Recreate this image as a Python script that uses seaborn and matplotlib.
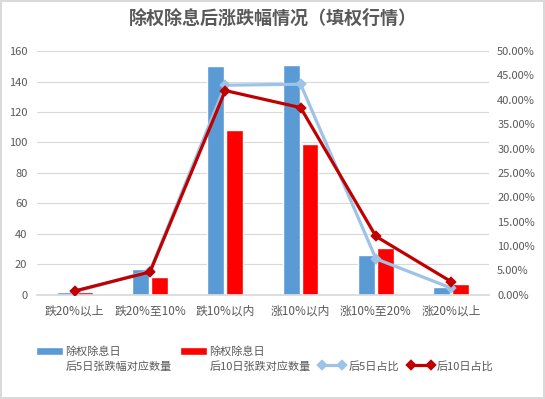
import numpy as np
import pandas as pd
import matplotlib
matplotlib.use("Agg")
import matplotlib.pyplot as plt
from matplotlib.ticker import PercentFormatter, MultipleLocator
import seaborn as sns

categories = ["跌20%以上", "跌20%至10%", "跌10%以内", "涨10%以内", "涨10%至20%", "涨20%以上"]
count_5d = [2, 17, 150, 151, 26, 5]
count_10d = [2, 12, 108, 99, 31, 7]
pct_5d = [0.006, 0.049, 0.430, 0.432, 0.074, 0.014]
pct_10d = [0.008, 0.047, 0.419, 0.384, 0.120, 0.027]

bar_labels = ["除权除息日\n后5日张跌幅对应数量", "除权除息日\n后10日张跌对应数量"]
line_labels = ["后5日占比", "后10日占比"]

GRAY = "#595959"
sns.set_theme(style="white")
plt.rcParams["font.family"] = ["Noto Sans CJK SC", "DejaVu Sans"]

bars = pd.DataFrame({
    "cat": categories * 2,
    "val": count_5d + count_10d,
    "series": [bar_labels[0]] * 6 + [bar_labels[1]] * 6,
})
lines = pd.DataFrame({
    "cat": categories * 2,
    "val": pct_5d + pct_10d,
    "series": [line_labels[0]] * 6 + [line_labels[1]] * 6,
})

fig = plt.figure(figsize=(5.45, 3.99), dpi=100)
fig.patch.set_edgecolor("#D9D9D9")
fig.patch.set_linewidth(1.5)
ax = fig.add_axes([0.068, 0.261, 0.829, 0.611])

sns.barplot(data=bars, x="cat", y="val", hue="series", order=categories,
            palette=["#5B9BD5", "#FF0000"], saturation=1, width=0.5, gap=0.1, ax=ax)
ax.set_ylim(0, 160)
ax.yaxis.set_major_locator(MultipleLocator(20))
ax.grid(axis="y", color="#D9D9D9", linewidth=0.8)
ax.set_axisbelow(True)
ax.set_xlabel("")
ax.set_ylabel("")
for s in ["top", "left", "right"]:
    ax.spines[s].set_visible(False)
ax.spines["bottom"].set_color("#D9D9D9")
ax.tick_params(axis="x", colors=GRAY, labelsize=8.5, pad=7, length=0)
ax.tick_params(axis="y", colors=GRAY, labelsize=8, pad=7, length=0)

ax2 = ax.twinx()
sns.pointplot(data=lines, x="cat", y="val", hue="series", order=categories,
              palette=["#9DC3E6", "#C00000"], markers="D", linestyles="-",
              linewidth=2.3, markersize=4.2, ax=ax2)
ax2.set_ylim(0, 0.5)
ax2.yaxis.set_major_locator(MultipleLocator(0.05))
ax2.yaxis.set_major_formatter(PercentFormatter(1.0, decimals=2))
ax2.set_ylabel("")
for s in ["top", "left", "right", "bottom"]:
    ax2.spines[s].set_visible(False)
ax2.tick_params(axis="y", colors=GRAY, labelsize=8, pad=6, length=0)
ax2.grid(False)

h1, l1 = ax.get_legend_handles_labels()
h2, l2 = ax2.get_legend_handles_labels()
ax.get_legend().remove()
ax2.get_legend().remove()
leg = fig.legend(h1 + h2, l1 + l2, loc="upper left", bbox_to_anchor=(0.058, 0.142),
                 ncol=4, frameon=False, fontsize=8, handlelength=2.4,
                 handletextpad=0.25, columnspacing=0.75, labelcolor=GRAY,
                 numpoints=2, borderaxespad=0)
for t in leg.get_texts():
    t.set_linespacing(1.45)
# keep each key level with the first line of its label
for col in leg._legend_handle_box.get_children():
    for item in col.get_children():
        item.align = "top"

fig.suptitle("除权除息后涨跌幅情况（填权行情）", x=0.5, y=0.978, fontsize=13,
             fontweight="bold", color=GRAY)

fig.savefig("out.png", dpi=100)
